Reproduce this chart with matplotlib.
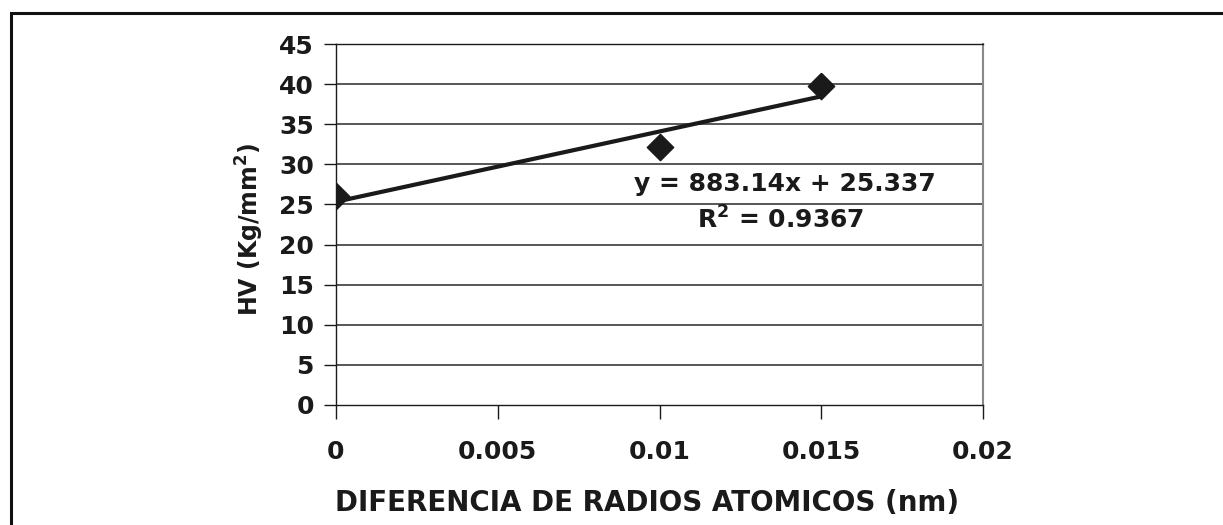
import numpy as np
import matplotlib
matplotlib.use("Agg")
import matplotlib.pyplot as plt
from matplotlib.patches import Rectangle

# data
x_vals = [0.0, 0.01, 0.015]
hv_vals = [26.0, 32.1, 39.8]
x_ticks = [0, 0.005, 0.01, 0.015, 0.02]
x_tick_labels = ["0", "0.005", "0.01", "0.015", "0.02"]
y_ticks = [0, 5, 10, 15, 20, 25, 30, 35, 40, 45]
eq_text = "y = 883.14x + 25.337"
r2_text = r"R$^{2}$ = 0.9367"
xlabel = "DIFERENCIA DE RADIOS ATOMICOS (nm)"
ylabel = r"HV (Kg/mm$^{2}$)"

plt.rcParams["font.family"] = ["DejaVu Sans"]
plt.rcParams["mathtext.default"] = "bf"

W, H = 1223, 525
fig = plt.figure(figsize=(W / 100, H / 100), dpi=100)

# outer frame
fig.patches.append(Rectangle((11 / W, -0.1), 1.2, 1 - 13 / H + 0.1, transform=fig.transFigure,
                             fill=False, lw=2.2, ec="#111111", clip_on=False))

ax = fig.add_axes([336 / W, 1 - 405 / H, (983 - 336) / W, (405 - 44) / H])
ax.set_xlim(0, 0.02)
ax.set_ylim(0, 45)

for yv in y_ticks[1:]:
    ax.axhline(yv, color="#3a3a3a", lw=1.2, zorder=1)

slope, intercept = np.polyfit(x_vals, hv_vals, 1)
xs = np.array([min(x_vals), max(x_vals)])
ax.plot(xs, slope * xs + intercept, color="#1a1a1a", lw=3.0, zorder=3, solid_capstyle="butt")

diamond = [(0, 1), (1, 0), (0, -1), (-1, 0), (0, 1)]
ax.plot(x_vals, hv_vals, linestyle="none", marker=diamond, ms=19, color="#1a1a1a", zorder=4)

ax.text(0.01388, 27.6, eq_text, ha="center", va="center", fontsize=18, fontweight="bold", color="#1a1a1a")
ax.text(0.01375, 23.1, r2_text, ha="center", va="center", fontsize=18, fontweight="bold", color="#1a1a1a")

ax.set_xticks(x_ticks)
ax.set_xticklabels(x_tick_labels)
ax.set_yticks(y_ticks)
ax.tick_params(axis="x", direction="out", length=10, width=1, pad=15, labelsize=18, colors="#1a1a1a")
ax.tick_params(axis="y", direction="out", length=9, width=1, pad=7, labelsize=18, colors="#1a1a1a")
for lab in ax.get_xticklabels() + ax.get_yticklabels():
    lab.set_fontweight("bold")

for s in ["left", "bottom", "top"]:
    ax.spines[s].set_color("#1a1a1a")
    ax.spines[s].set_linewidth(1.0)
ax.spines["right"].set_color("#888888")
ax.spines["right"].set_linewidth(1.5)

ax.set_xlabel(xlabel, fontsize=20, fontweight="bold", color="#1a1a1a", va="center")
ax.xaxis.set_label_coords((647 - 336) / 647, (405 - 503) / 361)
ax.set_ylabel(ylabel, fontsize=17, fontweight="bold", color="#1a1a1a", va="center")
ax.yaxis.set_label_coords((250 - 336) / 647, (405 - 229) / 361)

fig.savefig("out.png", dpi=100)
